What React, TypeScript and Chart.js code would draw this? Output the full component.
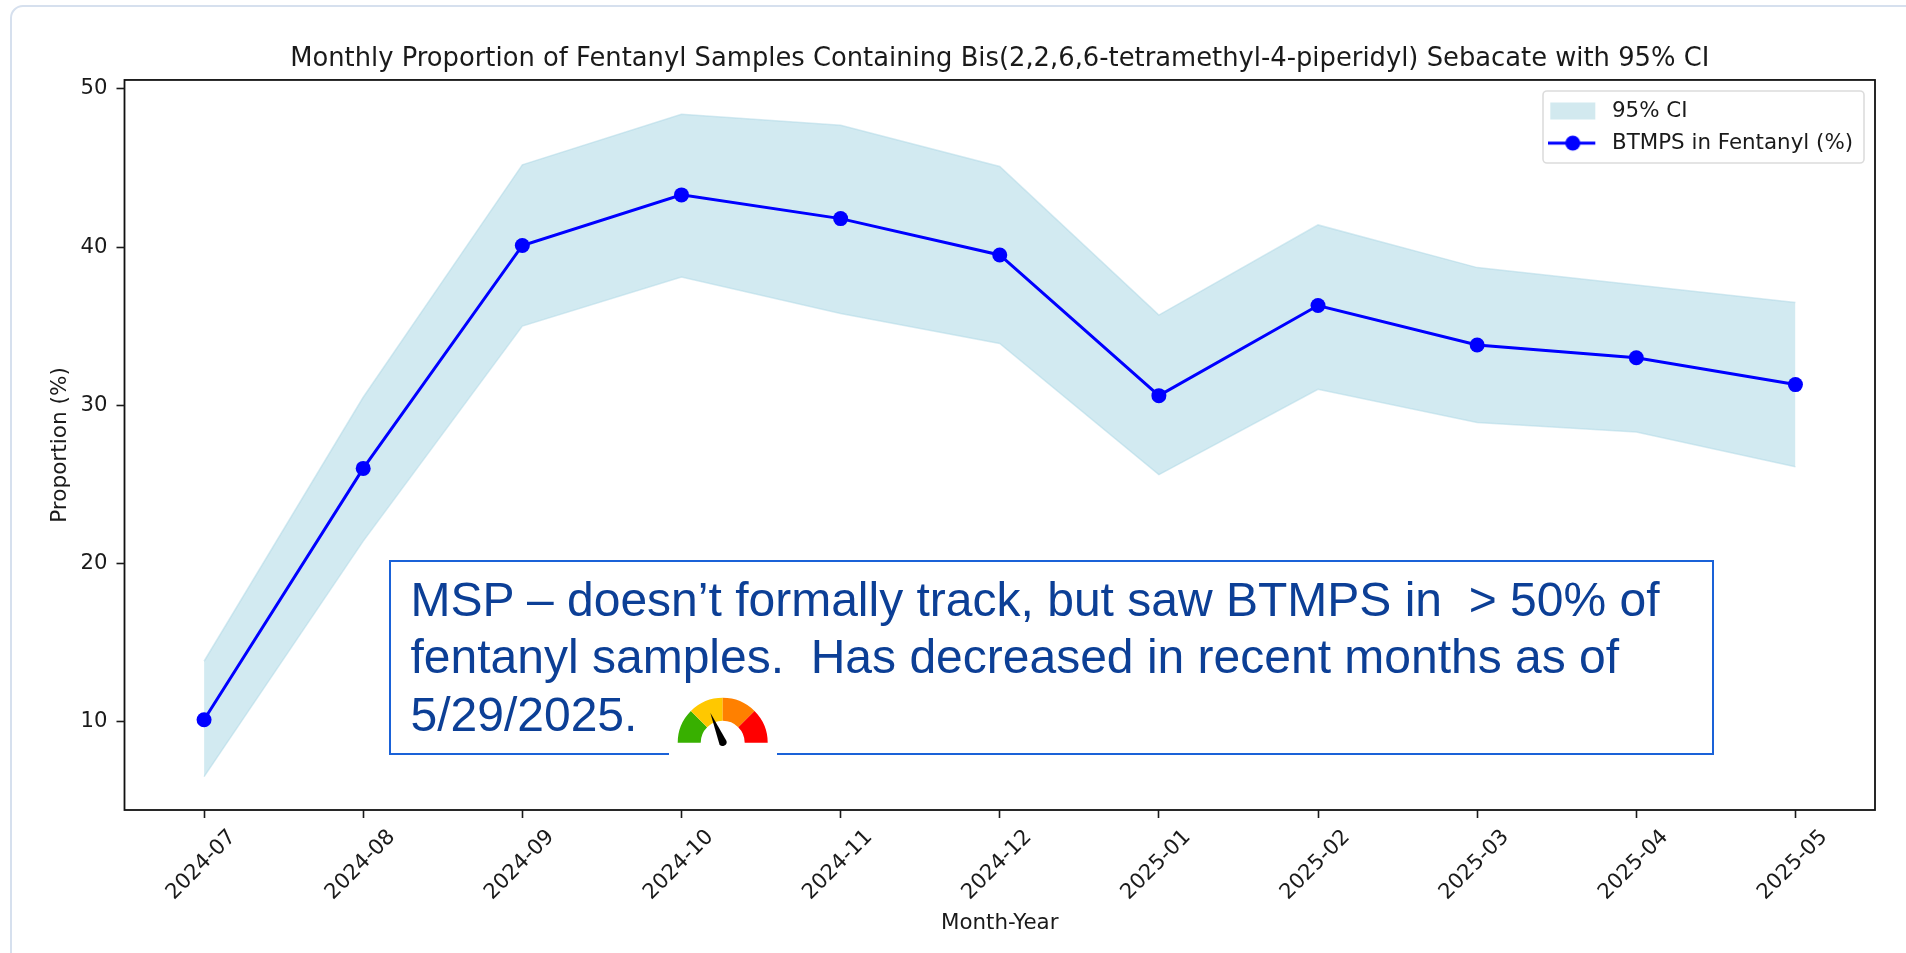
import React, { useEffect, useRef } from "react";
import { Chart, registerables } from "chart.js";

Chart.register(...registerables);

const months = ["2024-07","2024-08","2024-09","2024-10","2024-11","2024-12","2025-01","2025-02","2025-03","2025-04","2025-05"];
const proportion = [10.1,26.0,40.1,43.3,41.8,39.5,30.6,36.3,33.8,33.0,31.3];
const ciUpper = [13.8,30.5,45.2,48.4,47.7,45.1,35.7,41.4,38.7,37.6,36.5];
const ciLower = [6.5,21.4,35.0,38.1,35.8,33.9,25.6,31.0,28.9,28.3,26.1];
const yTicks = [10,20,30,40,50];

const TITLE = "Monthly Proportion of Fentanyl Samples Containing Bis(2,2,6,6-tetramethyl-4-piperidyl) Sebacate with 95% CI";
const NOTE_LINES = ["MSP \u2013 doesn\u2019t formally track, but saw BTMPS in  > 50% of","fentanyl samples.  Has decreased in recent months as of","5/29/2025."];
const FONT = "'DejaVu Sans'";
const INK = "#1a1a1a";
const BAND = "rgba(173,216,230,0.55)";
const BAND_EDGE = "rgba(173,216,230,0.5)";
const BLUE = "#0000ff";

function swatch(kind: "band" | "line") {
  const c = document.createElement("canvas");
  c.width = 53; c.height = 20;
  const g = c.getContext("2d")!;
  if (kind === "band") {
    g.fillStyle = "#d2e9ef";
    g.fillRect(2, 1.5, 45, 17);
  } else {
    g.strokeStyle = BLUE; g.lineWidth = 3;
    g.beginPath(); g.moveTo(0, 10); g.lineTo(47, 10); g.stroke();
    g.fillStyle = BLUE;
    g.beginPath(); g.arc(24.5, 10, 7.5, 0, Math.PI * 2); g.fill();
  }
  return c;
}

const placement = {
  id: "placement",
  beforeDraw(chart: any) {
    const x = chart.scales.x;
    x.getLabelItems().forEach((it: any, i: number) => {
      it.textOffset = 0;
      it.options.textAlign = "center";
      it.options.textBaseline = "middle";
      it.options.translation = [x.getPixelForTick(i) - 2.7, 865];
    });
    const { left, right, top, bottom } = chart.chartArea;
    chart.titleBlock.left = left;
    chart.titleBlock.right = right;
    const lg = chart.legend;
    lg.left = 1548.3 - 10.7;
    lg.top = 100.3 - 10.7;
    lg.right = 1864;
    lg.bottom = bottom;
    const g = chart.ctx;
    g.save();
    g.strokeStyle = "#111111";
    g.lineWidth = 1.8;
    g.strokeRect(left, top, right - left, bottom - top);
    g.fillStyle = "#ffffff";
    g.strokeStyle = "#dcdcdc";
    g.lineWidth = 1.6;
    g.beginPath();
    g.roundRect(1543, 91, 321, 72, 4);
    g.fill(); g.stroke();
    g.restore();
  },
};

export default function App() {
  const ref = useRef<HTMLCanvasElement>(null);
  useEffect(() => {
    const chart = new Chart(ref.current!, {
      type: "line",
      plugins: [placement],
      data: {
        labels: months,
        datasets: [
          { label: "95% CI lower", order: 3, data: ciLower, borderColor: BAND_EDGE, borderWidth: 1.5, pointRadius: 0, fill: false, tension: 0 },
          { label: "95% CI", order: 2, data: ciUpper, borderColor: BAND_EDGE, borderWidth: 1.5, pointRadius: 0, backgroundColor: BAND, fill: "-1", tension: 0 },
          { label: "BTMPS in Fentanyl (%)", order: 1, data: proportion, borderColor: BLUE, borderWidth: 3, pointRadius: 7.5, pointBorderWidth: 0, pointBackgroundColor: BLUE, fill: false, tension: 0 },
        ],
      },
      options: {
        responsive: false,
        animation: false,
        devicePixelRatio: 1,
        layout: { padding: { left: 0, right: 31, top: 0, bottom: 0 } },
        plugins: {
          tooltip: { enabled: false },
          title: {
            display: true, text: TITLE, color: INK,
            font: { family: FONT, size: 25.8, weight: "normal", lineHeight: 1.2 },
            padding: { top: 44, bottom: 5 },
          },
          legend: {
            display: true, position: "chartArea" as any, align: "start",
            labels: {
              font: { family: FONT, size: 21.4, lineHeight: 1.2 },
              color: INK, usePointStyle: true, pointStyleWidth: 53, padding: 10.7,
              generateLabels: () => [
                { text: "95% CI", pointStyle: swatch("band"), fontColor: INK, lineWidth: 0, hidden: false, datasetIndex: 1 },
                { text: "BTMPS in Fentanyl (%)", pointStyle: swatch("line"), fontColor: INK, lineWidth: 0, hidden: false, datasetIndex: 2 },
              ] as any,
            },
          },
        },
        scales: {
          x: {
            type: "category", offset: true,
            border: { display: false },
            grid: { display: true, drawOnChartArea: false, drawTicks: true, tickLength: 8, tickWidth: 1.6, tickColor: INK, offset: false },
            ticks: { minRotation: 45, maxRotation: 45, autoSkip: false, color: INK, font: { family: FONT, size: 21.2 }, padding: 6 },
            title: { display: true, text: "Month-Year", color: INK, font: { family: FONT, size: 21.4 }, padding: { top: 0, bottom: 17 } },
            afterFit: (s: any) => { s.height = 143; },
          },
          y: {
            type: "linear", min: 4.39, max: 50.57,
            border: { display: false },
            grid: { display: true, drawOnChartArea: false, drawTicks: true, tickLength: 8, tickWidth: 1.6, tickColor: INK },
            afterBuildTicks: (s: any) => { s.ticks = yTicks.map((value) => ({ value })); },
            ticks: { color: INK, font: { family: FONT, size: 21.2 }, padding: 9 },
            title: { display: true, text: "Proportion (%)", color: INK, font: { family: FONT, size: 21.6 }, padding: { top: 47, bottom: 0 } },
            afterFit: (s: any) => { s.width = 124.5; },
          },
        },
      },
    } as any);
    return () => chart.destroy();
  }, []);

  const arc = (a0: number, a1: number, color: string) => {
    const cx = 722.7, cy = 742.7, R = 45, r = 22;
    const p = (rad: number, a: number) => `${cx + rad * Math.cos((a * Math.PI) / 180)} ${cy - rad * Math.sin((a * Math.PI) / 180)}`;
    return <path d={`M${p(R, a0)} A${R} ${R} 0 0 1 ${p(R, a1)} L${p(r, a1)} A${r} ${r} 0 0 0 ${p(r, a0)} Z`} fill={color} />;
  };

  return (
    <div style={{ position: "fixed", inset: 0, overflow: "hidden", background: "#fff" }}>
      <div style={{ position: "absolute", left: 10, top: 4.5, width: 2200, height: 1400, border: "2px solid #d6e0ee", borderRadius: 13, boxSizing: "border-box" }} />
      <canvas ref={ref} width={1906} height={953} style={{ position: "absolute", left: 0, top: 0, width: 1906, height: 953, filter: "blur(0.4px)" }} />
      <div style={{ position: "absolute", left: 389, top: 559.5, width: 1325, height: 195, boxSizing: "border-box", border: "2px solid #1a62d8" }} />
      <div style={{ position: "absolute", left: 410.5, top: 570.5, fontFamily: "'Liberation Sans'", fontSize: 48, lineHeight: "57.8px", color: "#0c3f96", whiteSpace: "pre" }}>
        {NOTE_LINES.map((t) => <div key={t}>{t}</div>)}
      </div>
      <svg width={1906} height={953} style={{ position: "absolute", left: 0, top: 0 }}>
        <rect x={669} y={750} width={108} height={6} fill="#fff" />
        {arc(180, 135, "#38b000")}
        {arc(135, 90, "#ffc800")}
        {arc(90, 45, "#ff8000")}
        {arc(45, 0, "#ff0000")}
        <path d="M710.3 712.7 L726.5 741 A4 4 0 0 1 719.5 744.5 Z" fill="#000" />
      </svg>
    </div>
  );
}
